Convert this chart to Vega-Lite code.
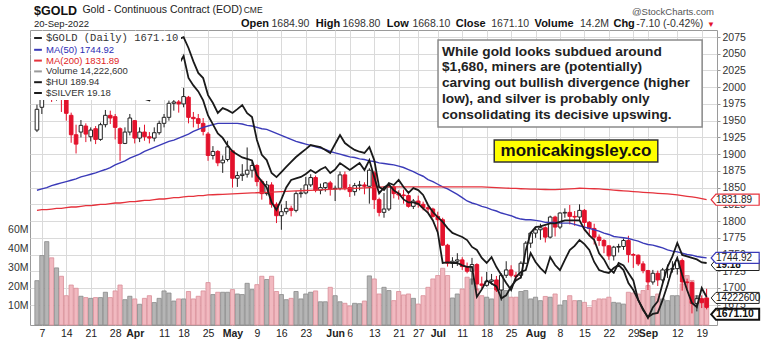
{
  "$schema": "https://vega.github.io/schema/vega-lite/v6.json",
  "width": 687,
  "height": 295,
  "autosize": "none",
  "padding": {"left": 30, "top": 30, "right": 51, "bottom": 17},
  "background": "white",
  "config": {
    "font": "Liberation Sans",
    "view": {"stroke": "#9a9a9a", "strokeWidth": 1},
    "axis": {"labelFont": "Liberation Sans", "labelColor": "#222222", "labelFontSize": 10.5, "gridColor": "#dadada", "gridWidth": 1, "domain": false, "title": null, "labelOverlap": false},
    "axisY": {"labelOverlap": false},
    "axisRight": {"labelOverlap": false}
  },
  "datasets": {
    "g": [
      {"i":0,"d":"2022-03-04","o":1936,"h":1974,"l":1933,"c":1967,"v":23.3,"m50":1846,"m200":1816,"hui":296,"slv":25.2},
      {"i":1,"d":"2022-03-07","o":1970,"h":2007,"l":1960,"c":1996,"v":36.5,"m50":1848,"m200":1817,"hui":300,"slv":25.7},
      {"i":2,"d":"2022-03-08","o":1998,"h":2079,"l":1989,"c":2043,"v":43.8,"m50":1850,"m200":1817,"hui":305,"slv":26.2},
      {"i":3,"d":"2022-03-09","o":2050,"h":2060,"l":1978,"c":1988,"v":35.3,"m50":1853,"m200":1818,"hui":293,"slv":25.9},
      {"i":4,"d":"2022-03-10","o":1990,"h":2009,"l":1980,"c":2000,"v":30,"m50":1855,"m200":1819,"hui":297,"slv":26.0},
      {"i":5,"d":"2022-03-11","o":2000,"h":2002,"l":1963,"c":1985,"v":25.6,"m50":1857,"m200":1819,"hui":294,"slv":25.8},
      {"i":6,"d":"2022-03-14","o":1988,"h":1991,"l":1950,"c":1961,"v":15.4,"m50":1859,"m200":1820,"hui":291,"slv":25.4},
      {"i":7,"d":"2022-03-15","o":1958,"h":1962,"l":1917,"c":1929,"v":21,"m50":1861,"m200":1821,"hui":290,"slv":25.1},
      {"i":8,"d":"2022-03-16","o":1929,"h":1944,"l":1901,"c":1915,"v":19.3,"m50":1863,"m200":1821,"hui":295,"slv":25.3},
      {"i":9,"d":"2022-03-17","o":1933,"h":1951,"l":1925,"c":1943,"v":15.1,"m50":1866,"m200":1822,"hui":301,"slv":25.5},
      {"i":10,"d":"2022-03-18","o":1942,"h":1946,"l":1918,"c":1930,"v":14.4,"m50":1868,"m200":1823,"hui":299,"slv":25.1},
      {"i":11,"d":"2022-03-21","o":1926,"h":1940,"l":1919,"c":1936,"v":14,"m50":1870,"m200":1823,"hui":302,"slv":25.4},
      {"i":12,"d":"2022-03-22","o":1938,"h":1942,"l":1915,"c":1922,"v":14.4,"m50":1872,"m200":1824,"hui":298,"slv":25.0},
      {"i":13,"d":"2022-03-23","o":1922,"h":1947,"l":1920,"c":1944,"v":14.4,"m50":1874.5,"m200":1825,"hui":304,"slv":25.3},
      {"i":14,"d":"2022-03-24","o":1944,"h":1966,"l":1940,"c":1958,"v":17.2,"m50":1877,"m200":1825,"hui":307,"slv":25.6},
      {"i":15,"d":"2022-03-25","o":1958,"h":1965,"l":1945,"c":1954,"v":14.4,"m50":1880,"m200":1826,"hui":306,"slv":25.5},
      {"i":16,"d":"2022-03-28","o":1956,"h":1960,"l":1922,"c":1940,"v":17.9,"m50":1884,"m200":1827,"hui":305.2,"slv":25.35},
      {"i":17,"d":"2022-03-29","o":1938,"h":1940,"l":1890,"c":1916,"v":21,"m50":1887,"m200":1827,"hui":305.8,"slv":25.0},
      {"i":18,"d":"2022-03-30","o":1916,"h":1940,"l":1915,"c":1933,"v":13.3,"m50":1890,"m200":1828,"hui":306.2,"slv":24.95},
      {"i":19,"d":"2022-03-31","o":1933,"h":1960,"l":1928,"c":1954,"v":15.1,"m50":1894,"m200":1829,"hui":311,"slv":24.8},
      {"i":20,"d":"2022-04-01","o":1950,"h":1951,"l":1916,"c":1924,"v":13.7,"m50":1897,"m200":1829,"hui":316,"slv":24.75},
      {"i":21,"d":"2022-04-04","o":1924,"h":1940,"l":1918,"c":1933,"v":10.9,"m50":1900,"m200":1830,"hui":312,"slv":24.7},
      {"i":22,"d":"2022-04-05","o":1933,"h":1944,"l":1920,"c":1926,"v":14,"m50":1904,"m200":1831,"hui":309.2,"slv":24.65},
      {"i":23,"d":"2022-04-06","o":1926,"h":1933,"l":1916,"c":1924,"v":15.4,"m50":1907,"m200":1831,"hui":312,"slv":24.6},
      {"i":24,"d":"2022-04-07","o":1924,"h":1940,"l":1919,"c":1932,"v":11.8,"m50":1910,"m200":1832,"hui":314,"slv":24.9},
      {"i":25,"d":"2022-04-08","o":1932,"h":1950,"l":1929,"c":1946,"v":14,"m50":1913,"m200":1833,"hui":315.1,"slv":25.2},
      {"i":26,"d":"2022-04-11","o":1946,"h":1960,"l":1940,"c":1955,"v":17.9,"m50":1916,"m200":1833,"hui":313.5,"slv":25.75},
      {"i":27,"d":"2022-04-12","o":1955,"h":1980,"l":1950,"c":1976,"v":16.8,"m50":1919,"m200":1834,"hui":312.6,"slv":25.6},
      {"i":28,"d":"2022-04-13","o":1976,"h":1984,"l":1965,"c":1978,"v":12.6,"m50":1921,"m200":1835,"hui":317.5,"slv":25.7},
      {"i":29,"d":"2022-04-14","o":1978,"h":1988,"l":1962,"c":1975,"v":13.7,"m50":1924,"m200":1835,"hui":317,"slv":25.8},
      {"i":30,"d":"2022-04-18","o":1975,"h":1999,"l":1970,"c":1986,"v":13.7,"m50":1927,"m200":1836,"hui":318,"slv":26.08},
      {"i":31,"d":"2022-04-19","o":1985,"h":1987,"l":1946,"c":1955,"v":17.6,"m50":1930,"m200":1837,"hui":312.6,"slv":25.35},
      {"i":32,"d":"2022-04-20","o":1955,"h":1963,"l":1940,"c":1953,"v":13.7,"m50":1934,"m200":1837,"hui":306,"slv":25.1},
      {"i":33,"d":"2022-04-21","o":1953,"h":1960,"l":1938,"c":1946,"v":15.1,"m50":1937,"m200":1838,"hui":300.3,"slv":24.9},
      {"i":34,"d":"2022-04-22","o":1946,"h":1954,"l":1928,"c":1934,"v":17.9,"m50":1940,"m200":1838,"hui":297.8,"slv":24.6},
      {"i":35,"d":"2022-04-25","o":1930,"h":1933,"l":1890,"c":1898,"v":22.3,"m50":1942,"m200":1839,"hui":289.4,"slv":24.1},
      {"i":36,"d":"2022-04-26","o":1898,"h":1912,"l":1892,"c":1904,"v":16,"m50":1944,"m200":1839.3,"hui":285.5,"slv":23.8},
      {"i":37,"d":"2022-04-27","o":1904,"h":1906,"l":1882,"c":1887,"v":17.2,"m50":1946,"m200":1839.7,"hui":280.6,"slv":23.5},
      {"i":38,"d":"2022-04-28","o":1887,"h":1898,"l":1872,"c":1891,"v":17.2,"m50":1946,"m200":1840,"hui":283,"slv":23.35},
      {"i":39,"d":"2022-04-29","o":1892,"h":1920,"l":1889,"c":1911,"v":17.2,"m50":1946,"m200":1840.3,"hui":282,"slv":23.1},
      {"i":40,"d":"2022-05-02","o":1905,"h":1906,"l":1850,"c":1864,"v":18.6,"m50":1946,"m200":1840.7,"hui":280.6,"slv":22.9},
      {"i":41,"d":"2022-05-03","o":1864,"h":1874,"l":1851,"c":1868,"v":16.3,"m50":1946,"m200":1841,"hui":282.5,"slv":22.8},
      {"i":42,"d":"2022-05-04","o":1868,"h":1885,"l":1860,"c":1870,"v":16,"m50":1945,"m200":1841.3,"hui":284.5,"slv":22.7},
      {"i":43,"d":"2022-05-05","o":1870,"h":1910,"l":1865,"c":1876,"v":21.9,"m50":1943,"m200":1841.7,"hui":280.5,"slv":22.65},
      {"i":44,"d":"2022-05-06","o":1876,"h":1889,"l":1865,"c":1883,"v":18.6,"m50":1942,"m200":1842,"hui":278.6,"slv":22.6},
      {"i":45,"d":"2022-05-09","o":1883,"h":1885,"l":1852,"c":1859,"v":21.2,"m50":1940,"m200":1842.3,"hui":267.3,"slv":22.1},
      {"i":46,"d":"2022-05-10","o":1859,"h":1862,"l":1832,"c":1841,"v":25.6,"m50":1938,"m200":1842.7,"hui":260,"slv":21.9},
      {"i":47,"d":"2022-05-11","o":1841,"h":1860,"l":1838,"c":1854,"v":23.9,"m50":1937,"m200":1843,"hui":257.4,"slv":21.7},
      {"i":48,"d":"2022-05-12","o":1854,"h":1858,"l":1820,"c":1825,"v":25.6,"m50":1934,"m200":1843.3,"hui":251,"slv":21.2},
      {"i":49,"d":"2022-05-13","o":1825,"h":1828,"l":1797,"c":1808,"v":17.6,"m50":1931,"m200":1843.7,"hui":249,"slv":20.95},
      {"i":50,"d":"2022-05-16","o":1808,"h":1825,"l":1787,"c":1814,"v":16,"m50":1928,"m200":1844,"hui":251.5,"slv":21.3},
      {"i":51,"d":"2022-05-17","o":1814,"h":1830,"l":1810,"c":1819,"v":13.3,"m50":1925,"m200":1844.3,"hui":254,"slv":21.7},
      {"i":52,"d":"2022-05-18","o":1819,"h":1823,"l":1807,"c":1816,"v":14,"m50":1922,"m200":1844.7,"hui":256.5,"slv":21.95},
      {"i":53,"d":"2022-05-19","o":1816,"h":1845,"l":1813,"c":1841,"v":17.6,"m50":1919,"m200":1845,"hui":258.9,"slv":22.0},
      {"i":54,"d":"2022-05-20","o":1841,"h":1849,"l":1835,"c":1842,"v":13.7,"m50":1917,"m200":1845.3,"hui":260.9,"slv":22.05},
      {"i":55,"d":"2022-05-23","o":1842,"h":1866,"l":1840,"c":1854,"v":16.3,"m50":1915,"m200":1845.7,"hui":262.8,"slv":22.15},
      {"i":56,"d":"2022-05-24","o":1854,"h":1870,"l":1851,"c":1865,"v":17.2,"m50":1913,"m200":1846,"hui":264.8,"slv":22.28},
      {"i":57,"d":"2022-05-25","o":1865,"h":1868,"l":1843,"c":1846,"v":17.9,"m50":1911,"m200":1846.3,"hui":264.3,"slv":22.18},
      {"i":58,"d":"2022-05-26","o":1846,"h":1856,"l":1840,"c":1850,"v":12.2,"m50":1909,"m200":1846.7,"hui":263.8,"slv":22.3},
      {"i":59,"d":"2022-05-27","o":1850,"h":1858,"l":1844,"c":1857,"v":12.2,"m50":1907,"m200":1847,"hui":262.4,"slv":22.38},
      {"i":60,"d":"2022-05-31","o":1857,"h":1860,"l":1838,"c":1848,"v":19.8,"m50":1904,"m200":1847.3,"hui":260.9,"slv":22.18},
      {"i":61,"d":"2022-06-01","o":1848,"h":1853,"l":1830,"c":1849,"v":15.4,"m50":1902,"m200":1847.7,"hui":265.3,"slv":22.3},
      {"i":62,"d":"2022-06-02","o":1849,"h":1874,"l":1846,"c":1869,"v":12.2,"m50":1900,"m200":1848,"hui":269.7,"slv":22.51},
      {"i":63,"d":"2022-06-03","o":1869,"h":1874,"l":1846,"c":1850,"v":11.4,"m50":1898,"m200":1848.3,"hui":265.8,"slv":22.4},
      {"i":64,"d":"2022-06-06","o":1850,"h":1855,"l":1836,"c":1844,"v":10,"m50":1896,"m200":1848.7,"hui":264,"slv":22.28},
      {"i":65,"d":"2022-06-07","o":1844,"h":1857,"l":1838,"c":1853,"v":11.4,"m50":1895,"m200":1849,"hui":262.4,"slv":22.4},
      {"i":66,"d":"2022-06-08","o":1853,"h":1860,"l":1846,"c":1854,"v":11.2,"m50":1893,"m200":1849.3,"hui":261.5,"slv":22.51},
      {"i":67,"d":"2022-06-09","o":1854,"h":1858,"l":1840,"c":1852,"v":12.6,"m50":1892,"m200":1849.7,"hui":260.9,"slv":22.28},
      {"i":68,"d":"2022-06-10","o":1852,"h":1879,"l":1826,"c":1876,"v":25.8,"m50":1890,"m200":1850,"hui":263.8,"slv":22.61},
      {"i":69,"d":"2022-06-13","o":1872,"h":1875,"l":1818,"c":1832,"v":24.2,"m50":1889,"m200":1850.3,"hui":257.4,"slv":22.05},
      {"i":70,"d":"2022-06-14","o":1832,"h":1835,"l":1807,"c":1813,"v":16.3,"m50":1887,"m200":1850.7,"hui":244.1,"slv":21.5},
      {"i":71,"d":"2022-06-15","o":1813,"h":1842,"l":1805,"c":1818,"v":19.8,"m50":1886,"m200":1851,"hui":242.6,"slv":21.7},
      {"i":72,"d":"2022-06-16","o":1818,"h":1857,"l":1815,"c":1851,"v":18.1,"m50":1885,"m200":1851,"hui":246.1,"slv":21.8},
      {"i":73,"d":"2022-06-17","o":1851,"h":1852,"l":1834,"c":1841,"v":12.8,"m50":1884,"m200":1851,"hui":245.1,"slv":21.6},
      {"i":74,"d":"2022-06-21","o":1841,"h":1846,"l":1832,"c":1839,"v":17.6,"m50":1882,"m200":1851,"hui":247.6,"slv":21.5},
      {"i":75,"d":"2022-06-22","o":1839,"h":1847,"l":1826,"c":1838,"v":15.8,"m50":1880,"m200":1851,"hui":244.1,"slv":21.3},
      {"i":76,"d":"2022-06-23","o":1838,"h":1840,"l":1820,"c":1822,"v":16.3,"m50":1877,"m200":1851,"hui":241.2,"slv":21.2},
      {"i":77,"d":"2022-06-24","o":1822,"h":1833,"l":1818,"c":1830,"v":14,"m50":1874,"m200":1851,"hui":243.6,"slv":21.2},
      {"i":78,"d":"2022-06-27","o":1830,"h":1838,"l":1820,"c":1825,"v":11,"m50":1870,"m200":1851,"hui":242.6,"slv":21.15},
      {"i":79,"d":"2022-06-28","o":1825,"h":1829,"l":1816,"c":1820,"v":15.4,"m50":1867,"m200":1851,"hui":240.2,"slv":21.0},
      {"i":80,"d":"2022-06-29","o":1820,"h":1823,"l":1812,"c":1818,"v":19.8,"m50":1862,"m200":1851,"hui":235.3,"slv":20.85},
      {"i":81,"d":"2022-06-30","o":1818,"h":1820,"l":1805,"c":1807,"v":24.2,"m50":1859,"m200":1851,"hui":231.8,"slv":20.6},
      {"i":82,"d":"2022-07-01","o":1807,"h":1814,"l":1784,"c":1802,"v":26,"m50":1855,"m200":1851,"hui":229.3,"slv":20.2},
      {"i":83,"d":"2022-07-05","o":1802,"h":1805,"l":1763,"c":1764,"v":29.8,"m50":1851,"m200":1851,"hui":226.9,"slv":19.18},
      {"i":84,"d":"2022-07-06","o":1764,"h":1766,"l":1732,"c":1737,"v":26,"m50":1848,"m200":1851,"hui":223.9,"slv":19.2},
      {"i":85,"d":"2022-07-07","o":1737,"h":1746,"l":1730,"c":1740,"v":14.2,"m50":1844,"m200":1851,"hui":221.5,"slv":19.18},
      {"i":86,"d":"2022-07-08","o":1740,"h":1752,"l":1733,"c":1742,"v":16.3,"m50":1840,"m200":1851,"hui":220.5,"slv":19.18},
      {"i":87,"d":"2022-07-11","o":1742,"h":1746,"l":1727,"c":1732,"v":18.9,"m50":1835,"m200":1851,"hui":219.5,"slv":19.1},
      {"i":88,"d":"2022-07-12","o":1732,"h":1738,"l":1722,"c":1725,"v":25.1,"m50":1830,"m200":1851,"hui":218.0,"slv":19.05},
      {"i":89,"d":"2022-07-13","o":1725,"h":1745,"l":1705,"c":1735,"v":24.2,"m50":1827,"m200":1851,"hui":214.6,"slv":19.05},
      {"i":90,"d":"2022-07-14","o":1735,"h":1737,"l":1696,"c":1706,"v":18.9,"m50":1825,"m200":1851,"hui":213.1,"slv":18.05},
      {"i":91,"d":"2022-07-15","o":1706,"h":1717,"l":1700,"c":1704,"v":15.4,"m50":1822,"m200":1851,"hui":209.2,"slv":18.3},
      {"i":92,"d":"2022-07-18","o":1704,"h":1724,"l":1702,"c":1710,"v":14.6,"m50":1820,"m200":1850.7,"hui":206.7,"slv":18.6},
      {"i":93,"d":"2022-07-19","o":1710,"h":1721,"l":1705,"c":1712,"v":13.7,"m50":1817,"m200":1850.3,"hui":209.6,"slv":18.5},
      {"i":94,"d":"2022-07-20","o":1712,"h":1718,"l":1694,"c":1697,"v":18.1,"m50":1815,"m200":1850,"hui":204.7,"slv":18.4},
      {"i":95,"d":"2022-07-21","o":1697,"h":1722,"l":1681,"c":1719,"v":24.2,"m50":1812,"m200":1849.7,"hui":200.8,"slv":18.0},
      {"i":96,"d":"2022-07-22","o":1719,"h":1740,"l":1715,"c":1727,"v":18.1,"m50":1810,"m200":1849.3,"hui":196.8,"slv":18.1},
      {"i":97,"d":"2022-07-25","o":1727,"h":1734,"l":1716,"c":1719,"v":14.6,"m50":1808,"m200":1849,"hui":193.4,"slv":18.4},
      {"i":98,"d":"2022-07-26","o":1719,"h":1724,"l":1711,"c":1717,"v":14.6,"m50":1805,"m200":1848.7,"hui":199.8,"slv":18.6},
      {"i":99,"d":"2022-07-27","o":1719,"h":1740,"l":1714,"c":1737,"v":17.6,"m50":1803,"m200":1848.3,"hui":202.3,"slv":18.7},
      {"i":100,"d":"2022-07-28","o":1737,"h":1770,"l":1736,"c":1767,"v":18.1,"m50":1802,"m200":1848,"hui":203.2,"slv":19.6},
      {"i":101,"d":"2022-07-29","o":1767,"h":1784,"l":1760,"c":1782,"v":13.7,"m50":1802,"m200":1847.8,"hui":211.6,"slv":20.18},
      {"i":102,"d":"2022-08-01","o":1782,"h":1790,"l":1775,"c":1787,"v":14.6,"m50":1801,"m200":1847.6,"hui":207.2,"slv":20.38},
      {"i":103,"d":"2022-08-02","o":1787,"h":1796,"l":1772,"c":1790,"v":12.8,"m50":1800,"m200":1847.4,"hui":204.2,"slv":20.4},
      {"i":104,"d":"2022-08-03","o":1790,"h":1792,"l":1768,"c":1776,"v":15,"m50":1798,"m200":1847.2,"hui":201.8,"slv":20.45},
      {"i":105,"d":"2022-08-04","o":1776,"h":1808,"l":1774,"c":1806,"v":14.6,"m50":1798,"m200":1847,"hui":209.6,"slv":20.5},
      {"i":106,"d":"2022-08-05","o":1806,"h":1808,"l":1777,"c":1791,"v":16.3,"m50":1798,"m200":1847,"hui":205.7,"slv":20.5},
      {"i":107,"d":"2022-08-08","o":1791,"h":1813,"l":1788,"c":1812,"v":10.5,"m50":1797,"m200":1847.4,"hui":203.2,"slv":20.55},
      {"i":108,"d":"2022-08-09","o":1812,"h":1819,"l":1805,"c":1813,"v":12.8,"m50":1797,"m200":1847.8,"hui":208.2,"slv":20.6},
      {"i":109,"d":"2022-08-10","o":1813,"h":1824,"l":1795,"c":1807,"v":15.4,"m50":1797,"m200":1848.2,"hui":213.1,"slv":20.6},
      {"i":110,"d":"2022-08-11","o":1807,"h":1815,"l":1793,"c":1806,"v":12.8,"m50":1795,"m200":1848.6,"hui":215.1,"slv":20.6},
      {"i":111,"d":"2022-08-12","o":1806,"h":1825,"l":1800,"c":1816,"v":12.8,"m50":1793,"m200":1849,"hui":218.0,"slv":20.6},
      {"i":112,"d":"2022-08-15","o":1816,"h":1818,"l":1785,"c":1798,"v":11.9,"m50":1791,"m200":1848.8,"hui":216.0,"slv":20.3},
      {"i":113,"d":"2022-08-16","o":1798,"h":1800,"l":1777,"c":1789,"v":9.3,"m50":1789,"m200":1848.6,"hui":213.1,"slv":20.1},
      {"i":114,"d":"2022-08-17","o":1789,"h":1796,"l":1765,"c":1776,"v":12.8,"m50":1787,"m200":1848.3,"hui":207.2,"slv":19.95},
      {"i":115,"d":"2022-08-18","o":1776,"h":1780,"l":1763,"c":1771,"v":13.7,"m50":1785,"m200":1848,"hui":203.2,"slv":19.5},
      {"i":116,"d":"2022-08-19","o":1771,"h":1773,"l":1752,"c":1763,"v":13.7,"m50":1782,"m200":1847.4,"hui":202.3,"slv":19.3},
      {"i":117,"d":"2022-08-22","o":1763,"h":1764,"l":1742,"c":1748,"v":14.6,"m50":1780,"m200":1846.9,"hui":201.8,"slv":19.0},
      {"i":118,"d":"2022-08-23","o":1748,"h":1763,"l":1741,"c":1761,"v":11.9,"m50":1777,"m200":1846.3,"hui":204.2,"slv":18.85},
      {"i":119,"d":"2022-08-24","o":1761,"h":1766,"l":1753,"c":1762,"v":11.6,"m50":1776,"m200":1845.7,"hui":205.7,"slv":19.18},
      {"i":120,"d":"2022-08-25","o":1762,"h":1774,"l":1757,"c":1771,"v":11,"m50":1775,"m200":1845.1,"hui":203.2,"slv":19.1},
      {"i":121,"d":"2022-08-26","o":1771,"h":1778,"l":1738,"c":1750,"v":17.2,"m50":1774,"m200":1844.6,"hui":196.8,"slv":18.85},
      {"i":122,"d":"2022-08-29","o":1750,"h":1752,"l":1730,"c":1749,"v":16.8,"m50":1772,"m200":1844,"hui":193.4,"slv":18.6},
      {"i":123,"d":"2022-08-30","o":1749,"h":1750,"l":1733,"c":1736,"v":16.3,"m50":1770,"m200":1843.5,"hui":188.5,"slv":17.95},
      {"i":124,"d":"2022-08-31","o":1736,"h":1740,"l":1722,"c":1726,"v":18.1,"m50":1767,"m200":1843,"hui":183.5,"slv":17.65},
      {"i":125,"d":"2022-09-01","o":1726,"h":1727,"l":1697,"c":1709,"v":20.7,"m50":1765,"m200":1842.5,"hui":180.1,"slv":17.35},
      {"i":126,"d":"2022-09-02","o":1709,"h":1727,"l":1705,"c":1722,"v":15,"m50":1764,"m200":1842,"hui":181.6,"slv":17.7},
      {"i":127,"d":"2022-09-06","o":1722,"h":1726,"l":1703,"c":1712,"v":16.3,"m50":1762,"m200":1841.5,"hui":182.1,"slv":17.9},
      {"i":128,"d":"2022-09-07","o":1712,"h":1730,"l":1709,"c":1727,"v":13.7,"m50":1760,"m200":1841,"hui":188.5,"slv":18.5},
      {"i":129,"d":"2022-09-08","o":1727,"h":1735,"l":1715,"c":1728,"v":12.8,"m50":1757,"m200":1840.5,"hui":195.9,"slv":19.05},
      {"i":130,"d":"2022-09-09","o":1728,"h":1740,"l":1723,"c":1729,"v":15.4,"m50":1755,"m200":1840,"hui":204.2,"slv":19.4},
      {"i":131,"d":"2022-09-12","o":1729,"h":1747,"l":1720,"c":1741,"v":15.4,"m50":1754,"m200":1839,"hui":209.2,"slv":19.85},
      {"i":132,"d":"2022-09-13","o":1741,"h":1744,"l":1696,"c":1709,"v":21.6,"m50":1752,"m200":1838,"hui":200.8,"slv":19.45},
      {"i":133,"d":"2022-09-14","o":1709,"h":1714,"l":1697,"c":1708,"v":26,"m50":1750,"m200":1837,"hui":193.4,"slv":19.4},
      {"i":134,"d":"2022-09-15","o":1708,"h":1710,"l":1662,"c":1677,"v":23.4,"m50":1749,"m200":1836,"hui":187.0,"slv":19.35},
      {"i":135,"d":"2022-09-16","o":1677,"h":1689,"l":1665,"c":1684,"v":15.4,"m50":1747,"m200":1835,"hui":185.0,"slv":19.3},
      {"i":136,"d":"2022-09-19","o":1684,"h":1689,"l":1670,"c":1678,"v":13.7,"m50":1746,"m200":1833.5,"hui":194.4,"slv":19.2},
      {"i":137,"d":"2022-09-20","o":1684.9,"h":1698.8,"l":1668.1,"c":1671.1,"v":14.2226,"m50":1744.92,"m200":1831.89,"hui":189.94,"slv":19.18}
    ]
  },
  "data": {"name": "g"},
  "encoding": {
    "x": {
      "field": "i", "type": "quantitative",
      "scale": {"domain": [-0.4, 138.1], "nice": false, "zero": false},
      "axis": {
        "values": [1,6,11,16,20,26,30,35,40,45,50,55,61,64,69,74,78,82,87,92,97,102,107,112,117,122,125,131,136],
        "labelExpr": "['7','14','21','28','Apr','11','18','25','May','9','16','23','Jun','6','13','21','27','Jul','11','18','25','Aug','8','15','22','29','Sep','12','19'][indexof([1,6,11,16,20,26,30,35,40,45,50,55,61,64,69,74,78,82,87,92,97,102,107,112,117,122,125,131,136], datum.value)]",
        "labelFontWeight": {"condition": {"test": "indexof([20,40,61,82,102,125], datum.value) >= 0", "value": "bold"}, "value": "normal"},
        "grid": true, "ticks": false, "labelPadding": 3, "labelOverlap": false, "labelFlush": false
      }
    }
  },
  "layer": [
    {
      "encoding": {
        "y": {
          "field": "v", "type": "quantitative",
          "scale": {"domain": [0, 155], "nice": false, "zero": true},
          "axis": {"orient": "left", "values": [10,20,30,40,50], "labelExpr": "datum.value == 50 ? '60M' : datum.value + 'M'", "grid": false, "ticks": false, "labelPadding": 2, "labelColor": "#333333", "labelOverlap": false}
        }
      },
      "layer": [
        {
          "mark": {"type": "bar", "width": 4.2, "strokeWidth": 0.8},
          "encoding": {
            "fill": {"condition": {"test": "datum.c < datum.o", "value": "#f1b9c0"}, "value": "#b5b5b5"},
            "stroke": {"condition": {"test": "datum.c < datum.o", "value": "#d98e98"}, "value": "#8a8a8a"}
          }
        },
        {
          "transform": [{"filter": "datum.i == 137"}],
          "mark": {"type": "point", "shape": "M-1,0L-0.8,-0.23L1,-0.23L1,0.23L-0.8,0.23Z", "size": 2304, "filled": true, "fill": "white", "stroke": "#222222", "strokeWidth": 1, "opacity": 1},
          "encoding": {"x": {"datum": 142.84}}
        },
        {
          "transform": [{"filter": "datum.i == 137"}],
          "mark": {"type": "text", "align": "left", "baseline": "middle", "fontSize": 10, "color": "#111111"},
          "encoding": {"x": {"datum": 138.9}, "text": {"value": "14222600"}}
        }
      ]
    },
    {
      "encoding": {
        "y": {
          "field": "l", "type": "quantitative",
          "scale": {"domain": [1644.7, 2085.5], "nice": false, "zero": false},
          "axis": {"orient": "right", "values": [1675,1700,1725,1750,1775,1800,1825,1850,1875,1900,1925,1950,1975,2000,2025,2050,2075], "format": "d", "grid": true, "ticks": true, "tickSize": 3, "tickColor": "#999999", "labelPadding": 2, "labelColor": "#333333", "labelOverlap": false, "title": null}
        }
      },
      "layer": [
        {
          "mark": {"type": "rule", "strokeWidth": 1},
          "encoding": {
            "y2": {"field": "h"},
            "stroke": {"condition": {"test": "datum.c < datum.o", "value": "#e3122c"}, "value": "#222222"}
          }
        },
        {
          "mark": {"type": "bar", "width": 3.6, "strokeWidth": 1},
          "encoding": {
            "y": {"field": "o", "type": "quantitative", "axis": {"orient": "right", "values": [1675,1700,1725,1750,1775,1800,1825,1850,1875,1900,1925,1950,1975,2000,2025,2050,2075], "format": "d", "labelOverlap": false, "title": null}},
            "y2": {"field": "c"},
            "fill": {"condition": {"test": "datum.c < datum.o", "value": "#e3122c"}, "value": "white"},
            "stroke": {"condition": {"test": "datum.c < datum.o", "value": "#e3122c"}, "value": "#222222"}
          }
        },
        {
          "mark": {"type": "line", "strokeWidth": 1.4},
          "encoding": {
            "y": {"field": "m50", "type": "quantitative", "axis": {"orient": "right", "values": [1675,1700,1725,1750,1775,1800,1825,1850,1875,1900,1925,1950,1975,2000,2025,2050,2075], "format": "d", "labelOverlap": false, "title": null}},
            "color": {
              "datum": "MA(50) 1744.92", "type": "nominal",
              "scale": {
                "domain": ["$GOLD (Daily) 1671.10", "MA(50) 1744.92", "MA(200) 1831.89", "Volume 14,222,600", "$HUI 189.94", "$SILVER 19.18"],
                "range": ["#222222", "#3a3ab8", "#e5323c", "#9a9a9a", "#1a1a1a", "#1a1a1a"]
              },
              "legend": {
                "title": null, "orient": "top-left", "offset": 1, "padding": 2, "fillColor": "white",
                "symbolType": "stroke", "symbolSize": 60, "symbolStrokeWidth": 2, "labelFontSize": 9.5, "labelOffset": 3, "rowPadding": 0.8, "labelLimit": 300,
                "encode": {
                  "labels": {
                    "update": {
                      "fill": {"signal": "datum.value === 'MA(50) 1744.92' ? '#2d2db4' : datum.value === 'MA(200) 1831.89' ? '#e02525' : '#333333'"},
                      "font": {"signal": "datum.value === '$GOLD (Daily) 1671.10' ? 'Liberation Mono' : 'Liberation Sans'"},
                      "fontSize": {"signal": "datum.value === '$GOLD (Daily) 1671.10' ? 10.5 : 9.5"}
                    }
                  }
                }
              }
            }
          }
        },
        {
          "mark": {"type": "line", "strokeWidth": 1.3},
          "encoding": {
            "y": {"field": "m200", "type": "quantitative", "axis": {"orient": "right", "values": [1675,1700,1725,1750,1775,1800,1825,1850,1875,1900,1925,1950,1975,2000,2025,2050,2075], "format": "d", "labelOverlap": false, "title": null}},
            "color": {"datum": "MA(200) 1831.89", "type": "nominal"}
          }
        }
      ]
    },
    {
      "encoding": {
        "y": {"field": "slv", "type": "quantitative", "scale": {"domain": [17.113, 26.947], "nice": false, "zero": false}, "axis": null}
      },
      "layer": [
        {
          "mark": {"type": "line", "strokeWidth": 1.8},
          "encoding": {"color": {"datum": "$SILVER 19.18", "type": "nominal"}}
        },
        {
          "transform": [{"filter": "datum.i == 137"}],
          "mark": {"type": "point", "shape": "M-1,0L-0.8,-0.23L1,-0.23L1,0.23L-0.8,0.23Z", "size": 2304, "filled": true, "fill": "white", "stroke": "#222222", "strokeWidth": 1, "opacity": 1, "yOffset": 2},
          "encoding": {"x": {"datum": 142.84}}
        },
        {
          "transform": [{"filter": "datum.i == 137"}],
          "mark": {"type": "text", "align": "left", "baseline": "middle", "fontSize": 10, "fontWeight": "bold", "color": "#111111", "yOffset": 2},
          "encoding": {"x": {"datum": 138.9}, "text": {"field": "slv", "type": "quantitative", "format": ".2f"}}
        }
      ]
    },
    {
      "encoding": {
        "y": {"field": "hui", "type": "quantitative", "scale": {"domain": [176.15, 321.47], "nice": false, "zero": false}, "axis": null}
      },
      "layer": [
        {
          "mark": {"type": "line", "strokeWidth": 1.8},
          "encoding": {"color": {"datum": "$HUI 189.94", "type": "nominal"}}
        }
      ]
    },
    {
      "transform": [{"filter": "datum.i == 137"}],
      "layer": [
        {
          "mark": {"type": "rect", "fill": "white", "stroke": "#8a8a8a", "strokeWidth": 1.5},
          "encoding": {
            "x": {"datum": 82.05}, "x2": {"datum": 136.08},
            "y": {"datum": 2070.56, "type": "quantitative", "scale": {"domain": [1644.7, 2085.5], "nice": false, "zero": false}, "axis": null},
            "y2": {"datum": 1940.55}
          }
        },
        {
          "mark": {"type": "text", "align": "left", "baseline": "top", "font": "Liberation Sans", "fontSize": 13.7, "fontWeight": "bold", "lineHeight": 15.8, "color": "#222222"},
          "encoding": {
            "x": {"datum": 82.86},
            "y": {"datum": 2063.8, "type": "quantitative", "axis": null},
            "text": {"value": ["While gold looks subdued around", "$1,680, miners are (potentially)", "carving out bullish divergence (higher", "low), and silver is probably only", "consolidating its decisive upswing."]}
          }
        },
        {
          "mark": {"type": "rect", "fill": "#ffff00", "stroke": "#333333", "strokeWidth": 1.5},
          "encoding": {
            "x": {"datum": 93.55}, "x2": {"datum": 127.01},
            "y": {"datum": 1921.1, "type": "quantitative", "axis": null},
            "y2": {"datum": 1888.25}
          }
        },
        {
          "mark": {"type": "text", "align": "center", "baseline": "middle", "fontSize": 17, "fontWeight": "bold", "color": "#111111"},
          "encoding": {
            "x": {"datum": 110.28},
            "y": {"datum": 1904.7, "type": "quantitative", "axis": null},
            "text": {"value": "monicakingsley.co"}
          }
        },
        {
          "mark": {"type": "point", "shape": "M-1,0L-0.8,-0.23L1,-0.23L1,0.23L-0.8,0.23Z", "size": 2304, "filled": true, "fill": "white", "stroke": "#e5323c", "strokeWidth": 1.2, "opacity": 1},
          "encoding": {"x": {"datum": 142.84}, "y": {"field": "m200", "type": "quantitative", "axis": null}}
        },
        {
          "mark": {"type": "text", "align": "left", "baseline": "middle", "fontSize": 10, "color": "#222222"},
          "encoding": {"x": {"datum": 138.9}, "y": {"field": "m200", "type": "quantitative", "axis": null}, "text": {"field": "m200", "type": "quantitative", "format": ".2f"}}
        },
        {
          "mark": {"type": "point", "shape": "M-1,0L-0.8,-0.23L1,-0.23L1,0.23L-0.8,0.23Z", "size": 2304, "filled": true, "fill": "white", "stroke": "#3a3ab8", "strokeWidth": 1.2, "opacity": 1},
          "encoding": {"x": {"datum": 142.84}, "y": {"field": "m50", "type": "quantitative", "axis": null}}
        },
        {
          "mark": {"type": "text", "align": "left", "baseline": "middle", "fontSize": 10, "color": "#222222"},
          "encoding": {"x": {"datum": 138.9}, "y": {"field": "m50", "type": "quantitative", "axis": null}, "text": {"field": "m50", "type": "quantitative", "format": ".2f"}}
        },
        {
          "mark": {"type": "point", "shape": "M-1,0L-0.8,-0.23L1,-0.23L1,0.23L-0.8,0.23Z", "size": 2304, "filled": true, "fill": "white", "stroke": "#111111", "strokeWidth": 2, "opacity": 1, "yOffset": 7},
          "encoding": {"x": {"datum": 142.84}, "y": {"field": "c", "type": "quantitative", "axis": null}}
        },
        {
          "mark": {"type": "text", "align": "left", "baseline": "middle", "fontSize": 10.5, "fontWeight": "bold", "color": "#111111", "yOffset": 7},
          "encoding": {"x": {"datum": 138.9}, "y": {"field": "c", "type": "quantitative", "axis": null}, "text": {"field": "c", "type": "quantitative", "format": ".2f"}}
        },
        {
          "mark": {"type": "text", "align": "left", "baseline": "alphabetic", "fontSize": 12.5, "fontWeight": "bold", "color": "#111111"},
          "encoding": {"x": {"datum": -0.6}, "y": {"datum": 2107.9, "type": "quantitative", "axis": null}, "text": {"value": "$GOLD"}}
        },
        {
          "mark": {"type": "text", "align": "left", "baseline": "alphabetic", "fontSize": 10.5, "color": "#222222"},
          "encoding": {"x": {"datum": 9.3}, "y": {"datum": 2110.2, "type": "quantitative", "axis": null}, "text": {"value": "Gold - Continuous Contract (EOD)"}}
        },
        {
          "mark": {"type": "text", "align": "left", "baseline": "alphabetic", "fontSize": 8.5, "color": "#222222"},
          "encoding": {"x": {"datum": 42.3}, "y": {"datum": 2110.2, "type": "quantitative", "axis": null}, "text": {"value": "CME"}}
        },
        {
          "mark": {"type": "text", "align": "right", "baseline": "alphabetic", "fontSize": 9.5, "color": "#555555"},
          "encoding": {"x": {"datum": 138.5}, "y": {"datum": 2107.9, "type": "quantitative", "axis": null}, "text": {"value": "@StockCharts.com"}}
        },
        {
          "mark": {"type": "text", "align": "left", "baseline": "alphabetic", "fontSize": 9.5, "color": "#222222"},
          "encoding": {"x": {"datum": -0.6}, "y": {"datum": 2090.7, "type": "quantitative", "axis": null}, "text": {"value": "20-Sep-2022"}}
        },
        {
          "mark": {"type": "text", "align": "left", "baseline": "alphabetic", "fontSize": 11, "fontWeight": "bold", "color": "#111111"},
          "encoding": {"x": {"datum": 41.73}, "y": {"datum": 2090.7, "type": "quantitative", "axis": null}, "text": {"value": "Open"}}
        },
        {
          "mark": {"type": "text", "align": "left", "baseline": "alphabetic", "fontSize": 10.5, "color": "#333333"},
          "encoding": {"x": {"datum": 47.98}, "y": {"datum": 2090.7, "type": "quantitative", "axis": null}, "text": {"value": "1684.90"}}
        },
        {
          "mark": {"type": "text", "align": "left", "baseline": "alphabetic", "fontSize": 11, "fontWeight": "bold", "color": "#111111"},
          "encoding": {"x": {"datum": 57.06}, "y": {"datum": 2090.7, "type": "quantitative", "axis": null}, "text": {"value": "High"}}
        },
        {
          "mark": {"type": "text", "align": "left", "baseline": "alphabetic", "fontSize": 10.5, "color": "#333333"},
          "encoding": {"x": {"datum": 62.5}, "y": {"datum": 2090.7, "type": "quantitative", "axis": null}, "text": {"value": "1698.80"}}
        },
        {
          "mark": {"type": "text", "align": "left", "baseline": "alphabetic", "fontSize": 11, "fontWeight": "bold", "color": "#111111"},
          "encoding": {"x": {"datum": 71.57}, "y": {"datum": 2090.7, "type": "quantitative", "axis": null}, "text": {"value": "Low"}}
        },
        {
          "mark": {"type": "text", "align": "left", "baseline": "alphabetic", "fontSize": 10.5, "color": "#333333"},
          "encoding": {"x": {"datum": 76.81}, "y": {"datum": 2090.7, "type": "quantitative", "axis": null}, "text": {"value": "1668.10"}}
        },
        {
          "mark": {"type": "text", "align": "left", "baseline": "alphabetic", "fontSize": 11, "fontWeight": "bold", "color": "#111111"},
          "encoding": {"x": {"datum": 85.68}, "y": {"datum": 2090.7, "type": "quantitative", "axis": null}, "text": {"value": "Close"}}
        },
        {
          "mark": {"type": "text", "align": "left", "baseline": "alphabetic", "fontSize": 10.5, "color": "#333333"},
          "encoding": {"x": {"datum": 92.94}, "y": {"datum": 2090.7, "type": "quantitative", "axis": null}, "text": {"value": "1671.10"}}
        },
        {
          "mark": {"type": "text", "align": "left", "baseline": "alphabetic", "fontSize": 11, "fontWeight": "bold", "color": "#111111"},
          "encoding": {"x": {"datum": 101.81}, "y": {"datum": 2090.7, "type": "quantitative", "axis": null}, "text": {"value": "Volume"}}
        },
        {
          "mark": {"type": "text", "align": "left", "baseline": "alphabetic", "fontSize": 10.5, "color": "#333333"},
          "encoding": {"x": {"datum": 111.08}, "y": {"datum": 2090.7, "type": "quantitative", "axis": null}, "text": {"value": "14.2M"}}
        },
        {
          "mark": {"type": "text", "align": "left", "baseline": "alphabetic", "fontSize": 11, "fontWeight": "bold", "color": "#111111"},
          "encoding": {"x": {"datum": 117.94}, "y": {"datum": 2090.7, "type": "quantitative", "axis": null}, "text": {"value": "Chg"}}
        },
        {
          "mark": {"type": "text", "align": "left", "baseline": "alphabetic", "fontSize": 10.5, "color": "#333333"},
          "encoding": {"x": {"datum": 122.58}, "y": {"datum": 2090.7, "type": "quantitative", "axis": null}, "text": {"value": "-7.10 (-0.42%)"}}
        },
        {
          "mark": {"type": "text", "align": "left", "baseline": "alphabetic", "fontSize": 8, "color": "#e3122c"},
          "encoding": {"x": {"datum": 137.09}, "y": {"datum": 2090.7, "type": "quantitative", "axis": null}, "text": {"value": "▼"}}
        }
      ]
    }
  ],
  "resolve": {"scale": {"y": "independent"}}
}
